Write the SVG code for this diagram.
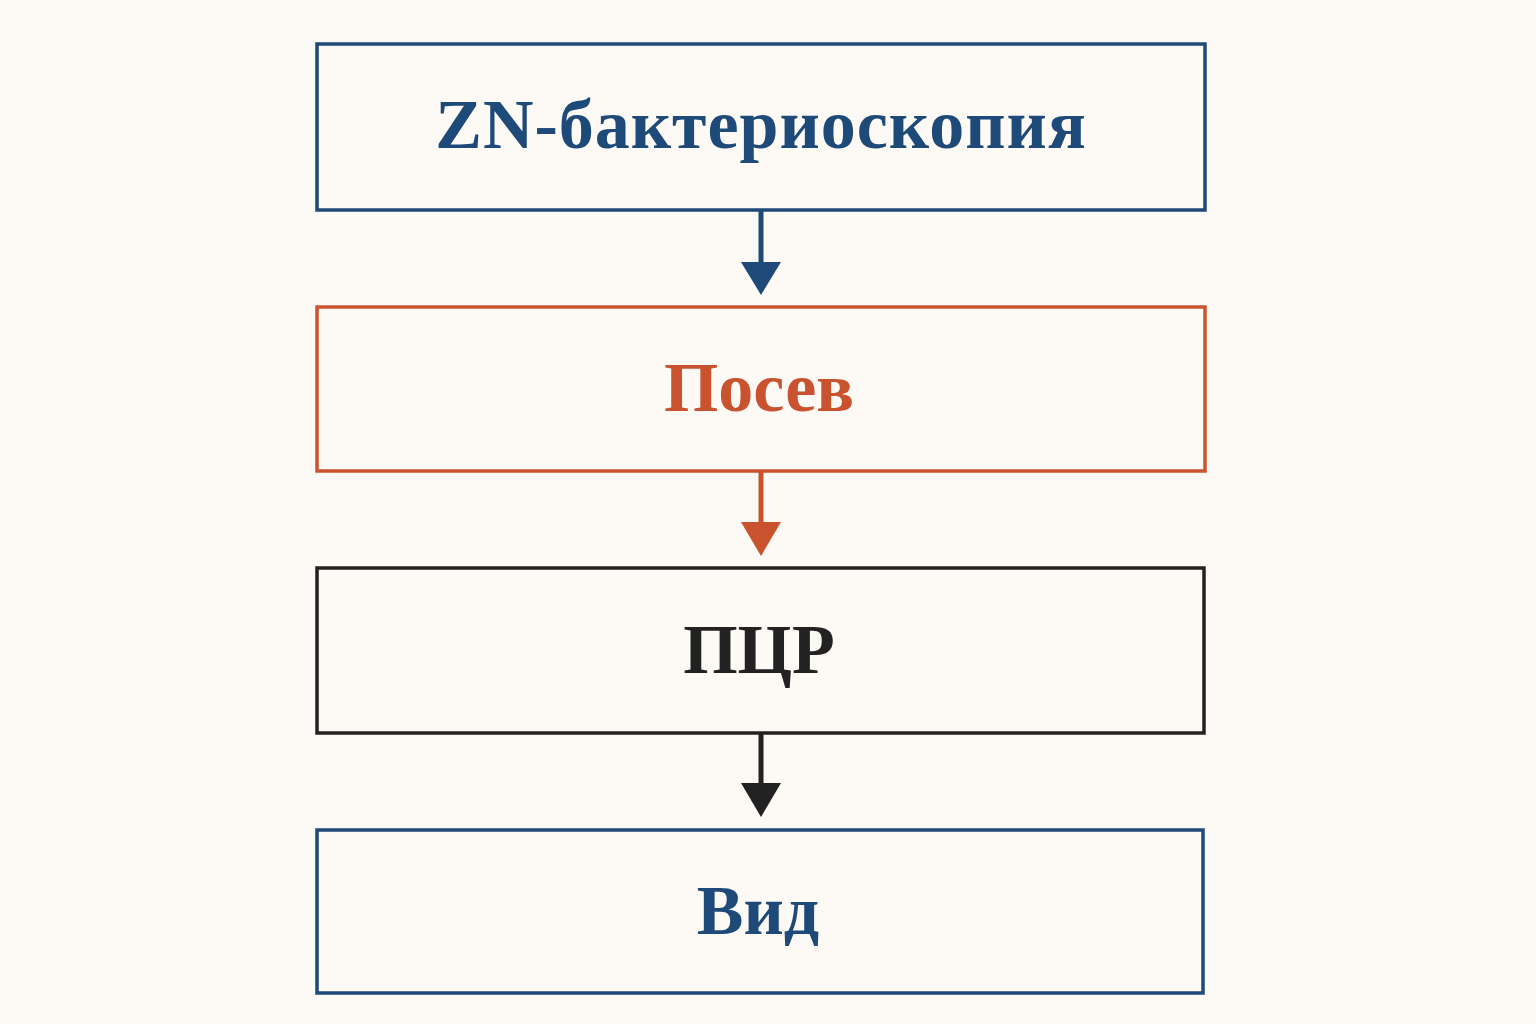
<svg xmlns="http://www.w3.org/2000/svg" width="1536" height="1024" viewBox="0 0 1536 1024">
<style>
.box{fill:none;stroke-width:3.5}
.t{font-family:"Liberation Serif",serif;font-weight:bold;font-size:70px;text-anchor:middle}
.ln{stroke-width:5}
</style>
<rect width="1536" height="1024" fill="#fdf9f4"/>
<g id="n1"><rect class="box" x="317" y="44" width="888" height="166" stroke="#1d4a78"/><text class="t" x="761" y="148" fill="#1d4a78" letter-spacing="1">ZN-бактериоскопия</text></g>
<g id="n2"><rect class="box" x="317" y="307" width="888" height="164" stroke="#c9532e"/><text class="t" x="759" y="411" fill="#c9532e">Посев</text></g>
<g id="n3"><rect class="box" x="317" y="568" width="887" height="165" stroke="#222"/><text class="t" x="759" y="673" fill="#222">ПЦР</text></g>
<g id="n4"><rect class="box" x="317" y="830" width="886" height="163" stroke="#1d4a78"/><text class="t" x="758" y="934" fill="#1d4a78">Вид</text></g>
<g id="connectors">
<line class="ln" x1="761" y1="210" x2="761" y2="265" stroke="#1d4a78"/><polygon points="741,262 781,262 761,295" fill="#1d4a78"/>
<line class="ln" x1="761" y1="471" x2="761" y2="525" stroke="#c9532e"/><polygon points="741,522 781,522 761,556" fill="#c9532e"/>
<line class="ln" x1="761" y1="733" x2="761" y2="786" stroke="#222"/><polygon points="741,783 781,783 761,817" fill="#222"/>
</g>
</svg>
